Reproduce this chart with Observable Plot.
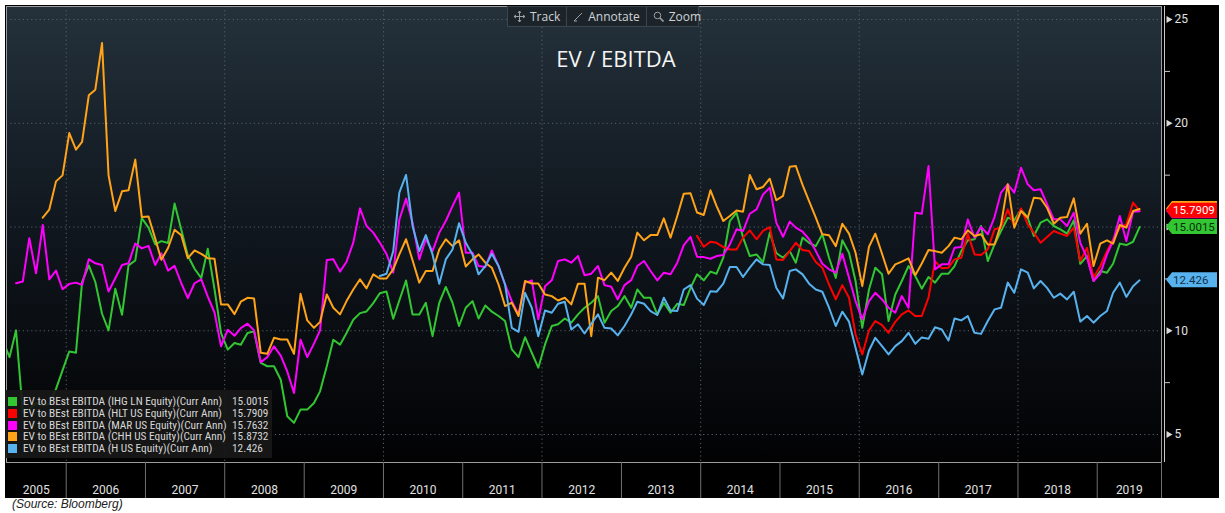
<!DOCTYPE html>
<html><head><meta charset="utf-8">
<script src="https://cdn.jsdelivr.net/npm/d3@7"></script>
<script src="https://cdn.jsdelivr.net/npm/@observablehq/plot@0.6"></script>
<style>
html,body{margin:0;padding:0;background:#fff;}
#wrap{position:relative;width:1225px;height:513px;overflow:hidden;}
#bgblack{position:absolute;left:5px;top:5px;width:1214px;height:493px;background:#000;}
#chart{position:absolute;left:0;top:0;}
#toolbar{position:absolute;left:507px;top:6px;width:190px;height:19px;background:#1c242a;border:1px solid #3b454d;display:flex;font-family:"Open Sans",sans-serif;font-size:12px;color:#cfd3d6;}
#toolbar .it{display:flex;align-items:center;padding:0 6px;border-right:1px solid #3b454d;height:19px;}
#toolbar .it:last-child{border-right:none;}
#toolbar svg{margin-right:5px;}
#title{position:absolute;left:0;width:1232px;top:43px;text-align:center;font-family:"Open Sans",sans-serif;font-size:22px;color:#f4f4f4;}
#legend{position:absolute;left:5px;top:390px;width:267px;height:68px;background:rgba(24,24,24,0.92);font-family:"Liberation Sans Narrow","Roboto Condensed",Roboto,sans-serif;font-size:11.3px;color:#d6d6d6;}
#legend .row{position:absolute;left:0;height:12px;width:267px;line-height:12px;}
#legend .sw{position:absolute;left:3px;top:1px;width:9px;height:9px;}
#legend .nm{position:absolute;left:18px;white-space:nowrap;}
#legend .vl{position:absolute;left:227px;white-space:nowrap;}
#source{position:absolute;left:12px;top:497px;font-family:"Liberation Sans",Arial,sans-serif;font-style:italic;font-size:12px;color:#222;}
</style></head><body>
<div id="wrap">
  <div id="bgblack"></div>
  <div id="chart"></div>
  <div id="toolbar">
    <div class="it"><svg width="11" height="11" viewBox="0 0 11 11"><path d="M5.5 0V11M0 5.5H11M5.5 0L4 2M5.5 0L7 2M5.5 11L4 9M5.5 11L7 9M0 5.5L2 4M0 5.5L2 7M11 5.5L9 4M11 5.5L9 7" stroke="#9aa1a6" fill="none"/></svg>Track</div>
    <div class="it"><svg width="10" height="10" viewBox="0 0 10 10"><path d="M1 9L9 1M1 9H4" stroke="#9aa1a6" fill="none"/></svg>Annotate</div>
    <div class="it"><svg width="11" height="11" viewBox="0 0 11 11"><circle cx="4.5" cy="4.5" r="3.3" stroke="#9aa1a6" fill="none"/><path d="M7 7L10.5 10.5" stroke="#9aa1a6" stroke-width="1.6"/></svg>Zoom</div>
  </div>
  <div id="title">EV / EBITDA</div>
  <div id="legend"></div>
  <div id="source">(Source: Bloomberg)</div>
</div>
<script>
// ---- data (monthly, mid-month) ----
const seriesNames = [
  "EV to BEst EBITDA (IHG LN Equity)(Curr Ann)",
  "EV to BEst EBITDA (HLT US Equity)(Curr Ann)",
  "EV to BEst EBITDA (MAR US Equity)(Curr Ann)",
  "EV to BEst EBITDA (CHH US Equity)(Curr Ann)",
  "EV to BEst EBITDA (H US Equity)(Curr Ann)"
];
const lastLabels = ["15.0015", "15.7909", "15.7632", "15.8732", "12.426"];
const seriesStarts = ["2005-03", "2013-12", "2005-05", "2005-09", "2009-12"];

const ihgValues = [9.53,8.73,10.02,6.08,6.24,6.51,6.40,6.48,7.20,8.09,
9.00,8.94,12.35,13.15,12.35,10.82,10.02,12.03,10.77,13.15,13.39,15.43,
14.97,14.16,14.32,14.23,16.13,14.87,13.63,12.99,12.54,13.95,12.00,9.89,
9.09,9.41,9.33,9.89,9.97,8.45,8.29,8.29,7.64,5.88,5.56,6.20,
6.20,6.52,7.08,8.29,9.57,9.33,9.89,10.53,10.85,10.93,11.33,11.81,
11.89,10.58,11.46,12.42,10.78,10.78,11.35,9.74,11.35,12.11,11.35,10.23,
11.11,11.43,10.59,11.22,10.92,10.71,10.47,9.10,8.73,9.69,8.94,8.22,
9.34,10.23,10.31,10.59,10.39,10.79,11.11,11.35,11.67,10.39,10.95,11.19,
11.67,11.11,11.99,11.59,11.59,10.79,11.35,10.87,11.30,11.24,12.07,12.72,
12.43,12.85,12.75,13.52,15.29,15.69,14.49,13.60,13.68,13.31,14.73,13.75,
13.52,13.84,13.28,14.49,14.24,14.08,14.65,13.52,12.55,14.36,13.76,12.40,
10.14,11.99,13.04,12.72,10.47,11.75,12.40,13.12,12.64,12.03,12.59,12.32,
12.75,12.75,13.12,13.84,14.36,14.41,15.05,13.36,14.16,14.81,15.45,15.32,
15.85,15.45,14.57,15.21,15.37,15.05,14.89,14.68,15.32,13.23,13.60,12.40,
12.88,12.80,13.23,14.20,14.13,14.29,15.00];

const hltValues = [14.57,
14.05,14.29,14.24,14.03,13.92,13.92,14.49,14.84,14.41,14.81,15.00,13.44,
13.41,13.84,14.24,13.89,13.84,13.31,13.04,12.23,11.51,12.20,11.59,9.82,
8.86,10.02,10.47,10.27,9.90,10.43,10.79,10.98,10.71,10.71,11.60,13.36,
13.01,13.04,13.44,13.52,14.68,13.68,13.65,13.92,14.89,14.97,15.85,15.05,
15.90,15.13,14.73,14.24,14.52,14.81,14.68,14.57,14.97,13.36,14.00,12.56,
13.12,13.84,14.40,14.97,15.13,16.18,15.79];

const marValues = [12.29,12.37,14.46,12.77,15.10,12.48,12.90,12.00,
12.26,12.32,12.21,13.45,13.25,13.17,11.89,12.53,13.17,13.25,14.21,13.97,
14.09,13.17,13.73,12.90,13.13,12.29,11.57,12.29,12.48,11.65,10.88,9.25,
10.05,9.76,10.13,10.34,10.02,8.48,8.73,9.25,8.80,8.04,7.00,9.57,
8.73,9.38,10.02,13.41,13.45,12.85,13.33,14.25,15.90,15.05,14.73,14.25,
13.70,12.80,15.35,16.37,15.21,13.44,14.41,13.84,14.73,15.29,16.01,16.66,
13.76,13.76,13.12,13.07,13.87,13.12,12.23,11.43,10.79,12.31,12.43,10.55,
12.15,12.43,13.36,13.44,13.28,13.60,12.68,12.75,13.12,12.20,12.12,11.51,
12.20,12.44,13.12,13.36,12.88,12.43,12.80,12.72,13.28,14.13,14.53,13.57,
13.55,13.47,13.60,13.65,14.16,14.89,14.81,15.64,15.85,16.57,16.90,15.21,
14.53,15.26,14.97,14.78,14.41,13.84,13.23,12.96,12.80,13.71,12.56,11.43,
10.55,11.43,11.83,11.51,11.11,10.87,11.67,11.11,15.69,15.64,17.94,12.96,
13.20,13.20,14.00,14.04,15.37,14.49,15.00,14.65,15.48,16.66,17.06,16.66,
17.86,17.06,16.77,16.82,16.10,15.37,15.37,15.05,15.69,14.24,13.52,12.40,
12.75,13.68,14.32,15.53,14.32,15.74,15.76];

const chhValues = [15.45,15.84,17.20,17.49,
19.53,18.73,19.10,21.35,21.62,23.87,17.49,15.77,16.72,16.77,18.25,15.48,
15.51,14.44,13.42,13.99,14.87,14.60,13.50,13.87,13.71,13.50,13.47,11.27,
11.27,10.80,11.40,11.59,11.56,8.94,8.89,9.66,9.58,9.58,8.89,11.78,
10.50,10.14,10.43,11.75,11.11,10.79,11.43,11.99,12.48,12.04,12.72,12.52,
12.52,12.96,13.68,14.41,13.40,12.32,12.88,12.88,13.92,14.41,14.08,14.36,
13.10,13.44,13.68,13.28,13.04,12.23,11.19,11.35,10.71,12.40,12.28,12.28,
11.75,11.67,11.46,11.59,11.27,12.27,12.27,9.74,12.56,12.44,12.80,12.40,
13.04,13.57,14.73,14.36,14.61,14.61,15.42,14.49,15.53,16.61,16.63,15.70,
15.58,16.77,16.01,15.29,15.53,15.80,15.74,17.51,16.82,16.93,17.33,16.29,
16.50,17.91,17.94,17.03,16.25,15.45,14.65,14.60,14.08,15.16,14.68,13.76,
12.15,14.05,14.68,13.71,12.75,13.20,13.33,13.49,12.68,13.24,13.89,13.84,
13.76,14.08,14.49,14.41,14.84,14.57,14.65,14.16,14.16,15.13,17.06,14.97,
15.77,15.45,16.41,16.38,15.93,15.16,15.45,15.48,16.38,14.68,15.16,13.12,
14.20,14.36,14.20,15.10,14.97,15.77,15.87];

const hValues = [12.64,
12.75,13.84,16.66,17.51,15.05,13.84,14.61,13.68,12.27,13.44,13.92,15.18,
14.24,13.68,12.72,13.12,13.71,13.12,12.23,10.14,9.95,11.83,11.11,9.74,
10.98,10.87,11.30,11.40,10.06,10.31,9.87,10.34,10.79,10.14,10.11,9.78,
10.23,10.79,11.40,11.30,10.95,10.76,11.59,10.98,10.95,11.99,12.20,11.55,
11.24,11.91,11.88,12.27,13.07,13.07,12.59,13.04,13.44,13.20,13.17,12.07,
11.56,12.88,12.96,12.72,12.27,11.99,11.88,11.11,10.23,10.92,10.44,9.18,
7.89,9.05,9.66,9.26,8.86,9.26,9.50,9.90,9.37,9.68,9.62,10.17,
10.06,9.53,10.59,10.50,10.71,9.90,9.85,10.47,11.03,11.11,12.32,11.83,
12.96,12.80,12.04,12.40,12.07,11.59,11.79,11.51,11.88,10.44,10.71,10.39,
10.71,10.95,11.83,12.32,11.63,12.15,12.43];

const yGridValues = [5, 10, 15, 20, 25];
const yLabelTicks = [5, 10, 20, 25];
const yMinorTicks = [7.5, 12.5, 17.5, 22.5];
const yearLabels = d3.range(2005, 2020);

// ---- styles ----
const seriesColors = ["#33c633", "#ff0000", "#ff00ff", "#ffa319", "#58b2ee"];
const tagText = ["#0b2f0b", "#ffffff", "#2a002a", "#2a1800", "#11304a"];

const allValues = [ihgValues, hltValues, marValues, chhValues, hValues];
function monthly(start, values) {
  const [y, m] = start.split("-").map(Number);
  return values.map((v, i) => ({date: new Date(Date.UTC(y, m - 1 + i, 15)), value: v}));
}
const series = allValues.map((vals, i) => ({
  name: seriesNames[i], color: seriesColors[i], rows: monthly(seriesStarts[i], vals),
  last: vals[vals.length - 1], label: lastLabels[i], text: tagText[i]
}));

const x0 = new Date(Date.UTC(2005, 3, 1));
const x1 = new Date(Date.UTC(2019, 9, 24));
const yearStarts = d3.range(2006, 2020).map(y => new Date(Date.UTC(y, 0, 1)));
const sepTicks = [...yearStarts, x1];
const gridYears = d3.range(2006, 2019, 2).map(y => new Date(Date.UTC(y, 0, 1)));
const yearMids = yearLabels.map(y => new Date((Math.max(Date.UTC(y, 0, 1), +x0) + Math.min(Date.UTC(y + 1, 0, 1), +x1)) / 2));

const drawOrder = [0, 1, 2, 3, 4];
const tagOrder = [2, 3, 1, 0, 4];

const tags = (index, scales, values, dimensions) => {
  const g = d3.create("svg:g").attr("text-anchor", "start");
  const xr = dimensions.width - dimensions.marginRight;
  for (const i of tagOrder) {
    const s = series[i];
    const cy = scales.y(s.last);
    const t = g.append("g").attr("transform", `translate(${xr + 5},${cy})`);
    t.append("path").attr("d", "M0,0L6,-7.5H51V7.5H6Z").attr("fill", s.color);
    t.append("text").attr("x", 7).attr("dy", "0.36em").attr("fill", s.text)
      .attr("text-anchor", "start")
      .attr("font-size", 11.5).attr("font-family", "Roboto, sans-serif").text(s.label);
  }
  return g.node();
};

const plot = Plot.plot({
  width: 1225, height: 513,
  marginLeft: 6, marginRight: 64, marginTop: 6, marginBottom: 51,
  style: {background: "transparent", fontFamily: "Roboto, sans-serif", fontSize: "12px", overflow: "visible"},
  x: {type: "utc", domain: [x0, x1]},
  y: {domain: [3.65, 25.63]},
  marks: [
    Plot.frame({fill: "url(#plotbg)", stroke: null}),
    Plot.ruleY(yGridValues, {stroke: "#56616b", strokeDasharray: "1.2,3", strokeWidth: 1}),
    Plot.ruleX(gridYears, {stroke: "#56616b", strokeDasharray: "1.2,3", strokeWidth: 1}),
    ...drawOrder.map(i => Plot.line(series[i].rows, {x: "date", y: "value", stroke: series[i].color, strokeWidth: 2, clip: true})),
    Plot.frame({stroke: "#9c9c9c", strokeWidth: 1}),
    Plot.axisX({ticks: sepTicks, tickSize: 36, tickFormat: () => "", stroke: "#707070", label: null}),
    Plot.axisX({ticks: yearMids, tickSize: 0, tickPadding: 23, tickFormat: d => String(d.getUTCFullYear()), fill: "#e2e2e2", label: null}),
    Plot.ruleX([x1], {dx: 3, stroke: "#c8c8c8"}),
    Plot.axisY({anchor: "right", ticks: yMinorTicks, tickSize: 5, dx: 3, tickFormat: () => "", stroke: "#c8c8c8", label: null}),
    Plot.dot(yGridValues, {y: d => d, frameAnchor: "right", dx: 7, symbol: "triangle", r: 2.6, rotate: 90, fill: "#d8d8d8", stroke: null}),
    Plot.axisY({anchor: "right", ticks: yLabelTicks, tickSize: 0, tickPadding: 13, tickFormat: d => String(d), fill: "#e2e2e2", label: null}),
    tags
  ]
});

// gradient for plot background
const ns = "http://www.w3.org/2000/svg";
const defs = document.createElementNS(ns, "defs");
const lg = document.createElementNS(ns, "linearGradient");
lg.setAttribute("id", "plotbg"); lg.setAttribute("x1", "0"); lg.setAttribute("y1", "0"); lg.setAttribute("x2", "0"); lg.setAttribute("y2", "1");
[["0", "#24313b"], ["0.45", "#111820"], ["1", "#020203"]].forEach(([o, c]) => {
  const st = document.createElementNS(ns, "stop"); st.setAttribute("offset", o); st.setAttribute("stop-color", c); lg.appendChild(st);
});
defs.appendChild(lg);
plot.insertBefore(defs, plot.firstChild);
document.getElementById("chart").appendChild(plot);

// legend
const legend = document.getElementById("legend");
series.forEach((s, i) => {
  const row = document.createElement("div");
  row.className = "row"; row.style.top = (6 + i * 11.8) + "px";
  row.innerHTML = `<div class="sw" style="background:${s.color}"></div><div class="nm"></div><div class="vl"></div>`;
  row.querySelector(".nm").textContent = s.name;
  row.querySelector(".vl").textContent = s.label;
  legend.appendChild(row);
});
</script>
</body></html>
